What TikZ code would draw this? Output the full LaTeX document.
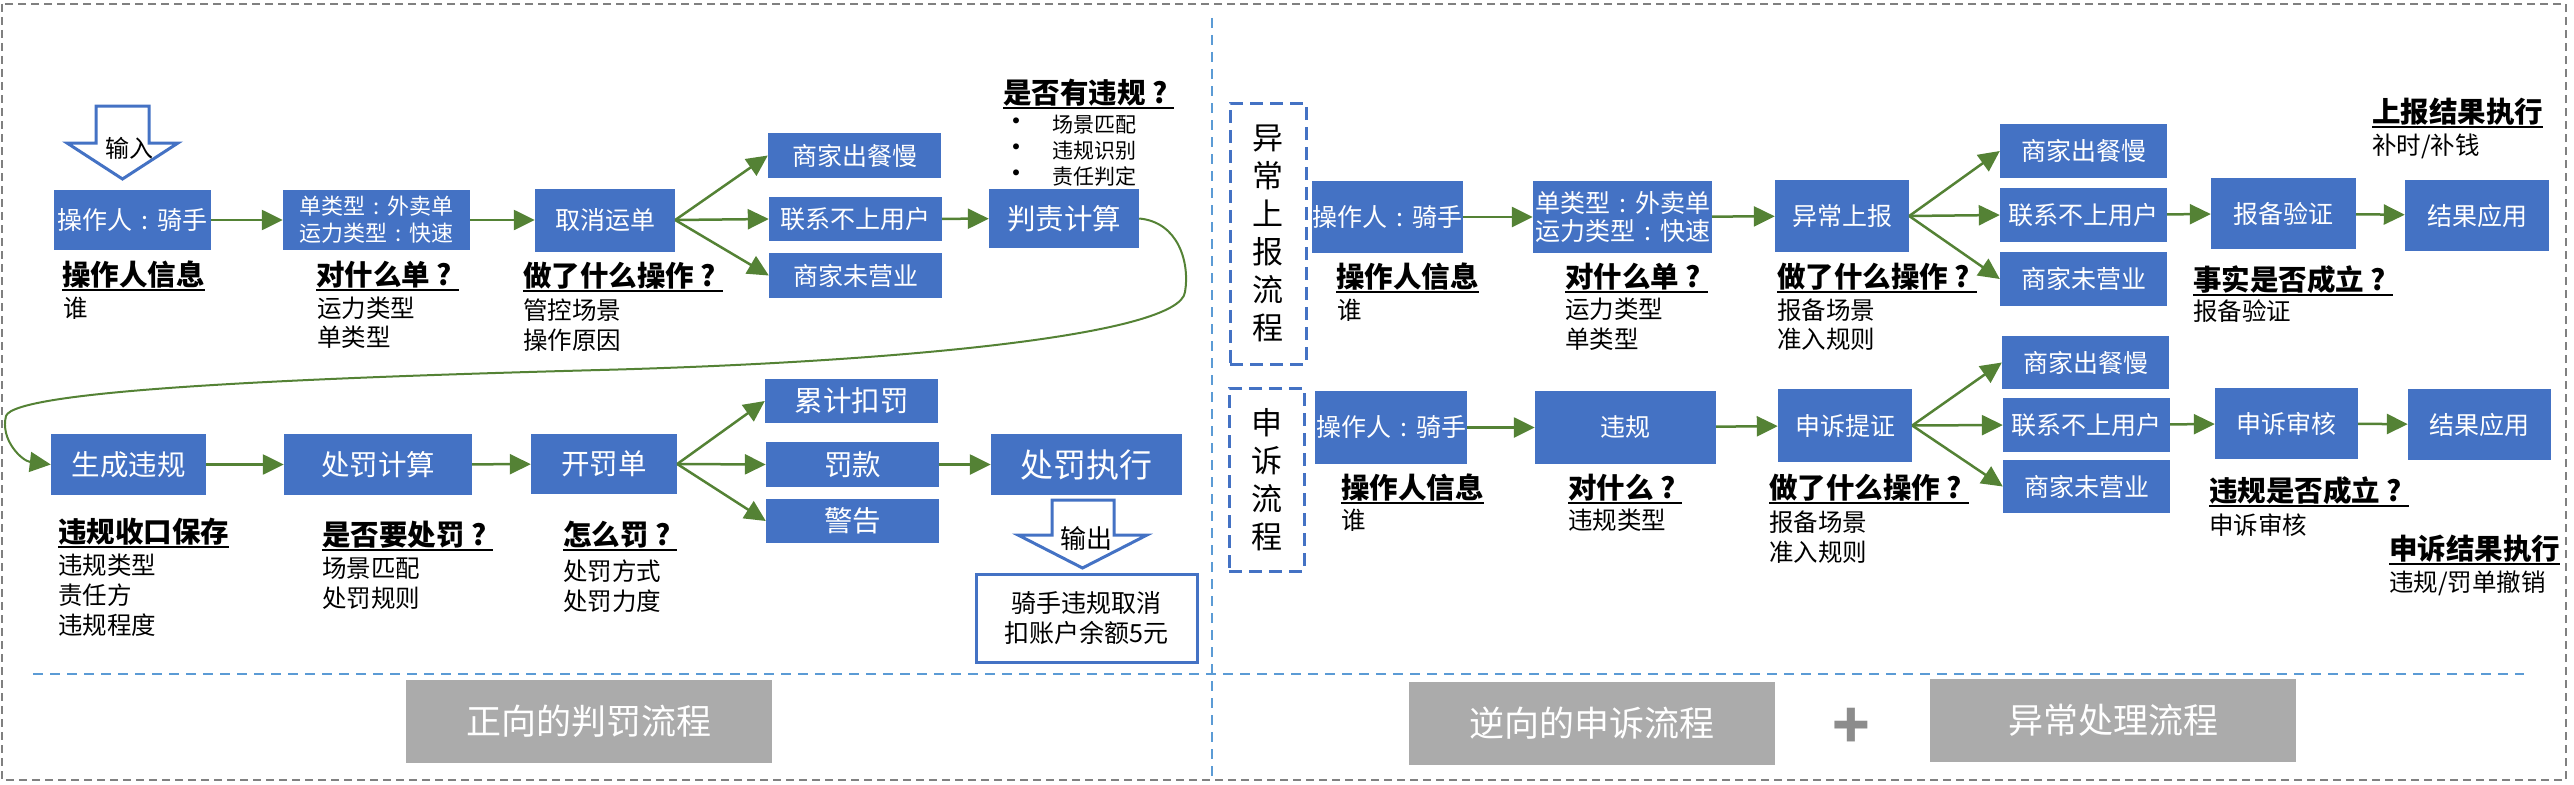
\documentclass[tikz,border=0pt]{standalone}
\usepackage{fontspec}
\setmainfont{Noto Sans CJK SC}
\usetikzlibrary{arrows.meta}
\definecolor{boxblue}{HTML}{4472C4}
\definecolor{agreen}{HTML}{548235}
\definecolor{ggray}{HTML}{ABABAB}
\definecolor{lblue}{HTML}{5B9BD5}
\definecolor{ogray}{HTML}{808080}
\definecolor{pgray}{HTML}{8C8C8C}
\newcommand{\myqm}{\makebox[1em][c]{?}}
\newcommand{\mycol}{\makebox[1em][c]{:}}
\tikzset{
 bb/.style 2 args={fill=boxblue,text=white,inner sep=0pt,minimum width=#1pt,minimum height=#2pt,align=center},
 f25/.style={font=\fontsize{25}{28}\selectfont},
 f28/.style={font=\fontsize{28.5}{32}\selectfont},
 f33/.style={font=\fontsize{33}{36}\selectfont},
 arr/.style={draw=agreen,line width=2.5pt,-{Triangle[length=21pt,width=20pt]}},
 hdr/.style={anchor=west,inner sep=0pt,text height=25pt,text depth=4pt,font=\fontsize{28.5}{32}\selectfont\bfseries,
   append after command={(\tikzlastnode.south west) edge[draw=black,line width=2.2pt] (\tikzlastnode.south east)}},
 sub/.style={anchor=west,inner sep=0pt,text height=21pt,text depth=3pt,font=\fontsize{24.5}{28}\selectfont},
 bul/.style={anchor=west,inner sep=0pt,font=\fontsize{21}{24}\selectfont},
 gbox/.style={fill=ggray,text=white,inner sep=0pt,minimum width=366pt,minimum height=83pt,font=\fontsize{35}{40}\selectfont},
 vbox/.style={draw=boxblue,line width=3pt,dash pattern=on 13pt off 7pt,inner sep=0pt,align=center,font=\fontsize{31}{38}\selectfont},
 blockarr/.style={draw=boxblue,line width=3pt,fill=white,line join=miter},
}
\begin{document}
\begin{tikzpicture}[x=1pt,y=-1pt]
\useasboundingbox (0,0) rectangle (2574,784);
% frames and dividers
\draw[ogray,line width=2pt,dash pattern=on 8pt off 5pt] (2,4) rectangle (2566,780);
\draw[lblue,line width=2pt,dash pattern=on 10pt off 7pt] (1212,18) -- (1212,780);
\draw[lblue,line width=2pt,dash pattern=on 10pt off 7pt] (33,674) -- (2524,674);

% ===== left: forward flow =====
\draw[blockarr] (96,106) -- (149,106) -- (149,143) -- (178,143) -- (122.5,179) -- (67,143) -- (96,143) -- cycle;
\node[font=\fontsize{24}{28}\selectfont,inner sep=0pt] (in) at (129.5,148) {输入};

\node[bb={157}{60},f25] (op1) at (132.5,220) {操作人\mycol 骑手};
\node[bb={187}{60},font=\fontsize{22}{27}\selectfont] (ty1) at (376.5,220) {单类型\mycol 外卖单\\运力类型\mycol 快速};
\node[bb={140}{63},f25] (cx1) at (605,220) {取消运单};
\node[bb={173}{45},f25] (s1a) at (854.5,155.5) {商家出餐慢};
\node[bb={173}{44},f25] (s1b) at (855.5,219) {联系不上用户};
\node[bb={173}{45},f25] (s1c) at (855.5,275.5) {商家未营业};
\node[bb={150}{59},f28] (pz) at (1064,218.5) {判责计算};

\draw[arr] (op1) -- (ty1);
\draw[arr] (ty1) -- (cx1);
\draw[arr] (cx1.east) -- (s1a.west);
\draw[arr] (cx1.east) -- (s1b.west);
\draw[arr] (cx1.east) -- (s1c.west);
\draw[arr] (s1b) -- (pz);

\node[hdr] (h1) at (62,275) {操作人信息};
\node[sub] (t1) at (63,308) {谁};
\node[hdr] (h2) at (316,275) {对什么单\myqm};
\node[sub] (t2) at (317,308) {运力类型};
\node[sub] (t3) at (317,337) {单类型};
\node[hdr] (h3) at (523,276) {做了什么操作\myqm};
\node[sub] (t4) at (523,310) {管控场景};
\node[sub] (t5) at (523,340) {操作原因};
\node[hdr] (h4) at (1003,93) {是否有违规\myqm};
\node[bul,font=\fontsize{28}{28}\selectfont] (b1) at (1002,125) {•};
\node[bul,font=\fontsize{28}{28}\selectfont] (b2) at (1002,151) {•};
\node[bul,font=\fontsize{28}{28}\selectfont] (b3) at (1002,177) {•};
\node[bul] (bt1) at (1052,125) {场景匹配};
\node[bul] (bt2) at (1052,151) {违规识别};
\node[bul] (bt3) at (1052,177) {责任判定};

\node[bb={155}{61},f28] (sc) at (128.5,464.5) {生成违规};
\node[bb={188}{61},f28] (cf) at (378,464.5) {处罚计算};
\node[bb={146}{60},f28] (kf) at (604,464) {开罚单};
\node[bb={173}{44},f28] (lj) at (851.5,401) {累计扣罚};
\node[bb={173}{45},f28] (fk) at (852.5,464.5) {罚款};
\node[bb={173}{44},f28] (jg) at (852.5,521) {警告};
\node[bb={191}{61},f33] (zx) at (1086.5,464.5) {处罚执行};

\draw[arr,line width=2pt] (pz.east) .. controls (1178,222) and (1190,262) .. (1185,292)
  .. controls (1180,335) and (900,362) .. (600,370)
  .. controls (300,378) and (15,390) .. (6,416)
  .. controls (0,440) and (22,461) .. (sc.west);

\draw[arr] (sc) -- (cf);
\draw[arr] (cf) -- (kf);
\draw[arr] (kf.east) -- (lj.west);
\draw[arr] (kf.east) -- (fk.west);
\draw[arr] (kf.east) -- (jg.west);
\draw[arr] (fk) -- (zx);

\draw[blockarr] (1052,500) -- (1114,500) -- (1114,535) -- (1147,535) -- (1082.5,568) -- (1018,535) -- (1052,535) -- cycle;
\node[font=\fontsize{26}{30}\selectfont,inner sep=0pt] (out) at (1086,539) {输出};
\node[draw=boxblue,line width=3pt,fill=white,minimum width=221pt,minimum height=88pt,inner sep=0pt,align=center,font=\fontsize{25}{30}\selectfont] (res) at (1086.5,618) {骑手违规取消\\扣账户余额5元};

\node[hdr] (h5) at (58,532) {违规收口保存};
\node[sub] (t6) at (58,565) {违规类型};
\node[sub] (t7) at (58,595) {责任方};
\node[sub] (t8) at (58,625) {违规程度};
\node[hdr] (h6) at (322,535) {是否要处罚\myqm};
\node[sub] (t9) at (322,568) {场景匹配};
\node[sub] (t10) at (322,598) {处罚规则};
\node[hdr] (h7) at (563,535) {怎么罚\myqm};
\node[sub] (t11) at (563,571) {处罚方式};
\node[sub] (t12) at (563,601) {处罚力度};

\node[gbox] (g1) at (589,721.5) {正向的判罚流程};

% ===== right: exception report flow =====
\node[vbox,minimum width=76pt,minimum height=261pt] (vb1) at (1268,233.5) {异\\常\\上\\报\\流\\程};
\node[bb={151}{72},f25] (op2) at (1387.5,217) {操作人\mycol 骑手};
\node[bb={179}{72},font=\fontsize{25}{28}\selectfont] (ty2) at (1622.5,217) {单类型\mycol 外卖单\\运力类型\mycol 快速};
\node[bb={134}{72},f25] (yc) at (1842,216) {异常上报};
\node[bb={167}{54},f25] (r1a) at (2083.5,151) {商家出餐慢};
\node[bb={167}{54},f25] (r1b) at (2083.5,215) {联系不上用户};
\node[bb={167}{54},f25] (r1c) at (2083.5,279) {商家未营业};
\node[bb={145}{71},f25] (bbz) at (2283.5,213.5) {报备验证};
\node[bb={144}{71},f25] (jy1) at (2477,215.5) {结果应用};

\draw[arr] (op2) -- (ty2);
\draw[arr] (ty2) -- (yc);
\draw[arr] (yc.east) -- (r1a.west);
\draw[arr] (yc.east) -- (r1b.west);
\draw[arr] (yc.east) -- (r1c.west);
\draw[arr] (r1b) -- (bbz);
\draw[arr] (bbz) -- (jy1);

\node[hdr] (h8) at (1336,277) {操作人信息};
\node[sub] (t13) at (1337,310) {谁};
\node[hdr] (h9) at (1565,277) {对什么单\myqm};
\node[sub] (t14) at (1565,309) {运力类型};
\node[sub] (t15) at (1565,339) {单类型};
\node[hdr] (h10) at (1777,277) {做了什么操作\myqm};
\node[sub] (t16) at (1777,310) {报备场景};
\node[sub] (t17) at (1777,339) {准入规则};
\node[hdr] (h11) at (2193,280) {事实是否成立\myqm};
\node[sub] (t18) at (2193,311) {报备验证};
\node[hdr] (h12) at (2372,112) {上报结果执行};
\node[sub] (t19) at (2372,145) {补时/补钱};

% ===== right: appeal flow =====
\node[vbox,minimum width=75pt,minimum height=183pt] (vb2) at (1266.5,479.5) {申\\诉\\流\\程};
\node[bb={152}{73},f25] (op3) at (1391,427.5) {操作人\mycol 骑手};
\node[bb={181}{73},f25] (wg) at (1625.5,427.5) {违规};
\node[bb={134}{73},f25] (ss) at (1845,425.5) {申诉提证};
\node[bb={167}{53},f25] (r2a) at (2085.5,362.5) {商家出餐慢};
\node[bb={167}{54},f25] (r2b) at (2086.5,425) {联系不上用户};
\node[bb={167}{53},f25] (r2c) at (2086.5,486.5) {商家未营业};
\node[bb={143}{71},f25] (sh) at (2286.5,423.5) {申诉审核};
\node[bb={143}{71},f25] (jy2) at (2479.5,424.5) {结果应用};

\draw[arr] (op3) -- (wg);
\draw[arr] (wg) -- (ss);
\draw[arr] (ss.east) -- (r2a.west);
\draw[arr] (ss.east) -- (r2b.west);
\draw[arr] (ss.east) -- (r2c.west);
\draw[arr] (r2b) -- (sh);
\draw[arr] (sh) -- (jy2);

\node[hdr] (h13) at (1341,488) {操作人信息};
\node[sub] (t20) at (1341,520) {谁};
\node[hdr] (h14) at (1568,488) {对什么\myqm};
\node[sub] (t21) at (1568,520) {违规类型};
\node[hdr] (h15) at (1769,488) {做了什么操作\myqm};
\node[sub] (t22) at (1769,522) {报备场景};
\node[sub] (t23) at (1769,552) {准入规则};
\node[hdr] (h16) at (2209,491) {违规是否成立\myqm};
\node[sub] (t24) at (2209,525) {申诉审核};
\node[hdr] (h17) at (2389,549) {申诉结果执行};
\node[sub] (t25) at (2389,582) {违规/罚单撤销};

\node[gbox] (g2) at (1592,723) {逆向的申诉流程};
\node[text=pgray,inner sep=0pt,font=\fontsize{62}{62}\selectfont\bfseries] (plus) at (1851,728) {+};
\node[gbox] (g3) at (2113,720.5) {异常处理流程};
\end{tikzpicture}
\end{document}
